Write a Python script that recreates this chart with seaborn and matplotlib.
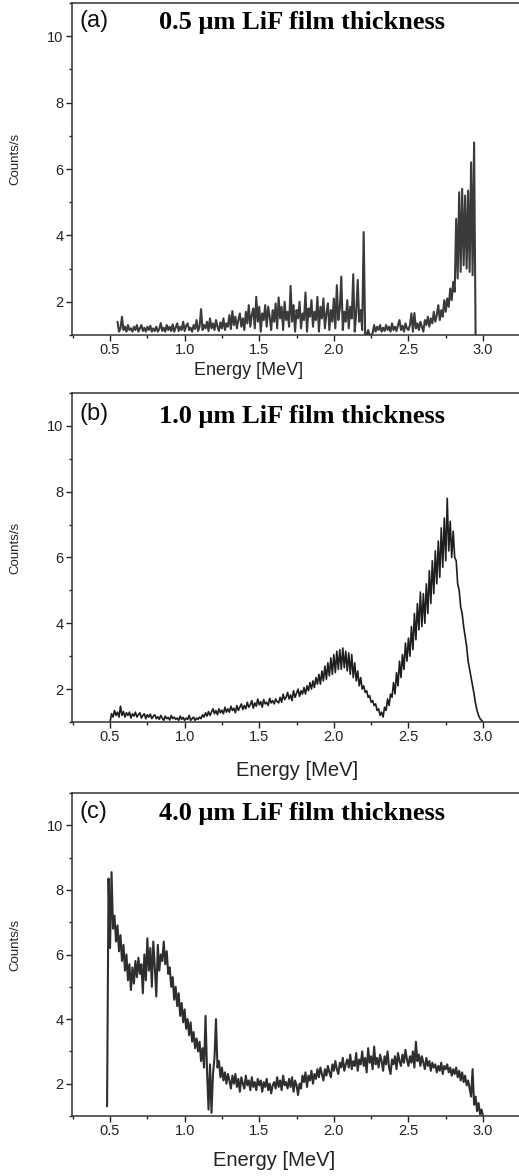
import numpy as np
import matplotlib
matplotlib.use("Agg")
import matplotlib.pyplot as plt
import seaborn as sns
from matplotlib.ticker import MultipleLocator

sns.set_style("ticks")
plt.rcParams['font.family'] = ['Liberation Sans', 'DejaVu Sans']

# ---------------- data ----------------
panel_labels = ["(a)", "(b)", "(c)"]
panel_titles = ["0.5 \u03bcm LiF film thickness",
                "1.0 \u03bcm LiF film thickness",
                "4.0 \u03bcm LiF film thickness"]

# energy ranges (MeV) of each spectrum, 0.01 MeV channels
energy_range_a = (0.55, 2.95)
energy_range_b = (0.50, 3.00)
energy_range_c = (0.48, 3.00)

counts_a = [
    1.40, 1.10, 1.20, 1.55, 1.15, 1.25, 1.10, 1.30, 1.15, 1.20,
    1.10, 1.25, 1.15, 1.30, 1.10, 1.20, 1.30, 1.12, 1.22, 1.10,
    1.25, 1.15, 1.28, 1.10, 1.20, 1.12, 1.25, 1.10, 1.18, 1.36,
    1.12, 1.22, 1.10, 1.30, 1.15, 1.25, 1.12, 1.32, 1.10, 1.22,
    1.35, 1.12, 1.25, 1.15, 1.40, 1.12, 1.28, 1.35, 1.15, 1.22,
    1.10, 1.30, 1.18, 1.45, 1.12, 1.25, 1.78, 1.15, 1.30, 1.20,
    1.40, 1.12, 1.50, 1.20, 1.35, 1.15, 1.45, 1.25, 1.12, 1.38,
    1.20, 1.50, 1.15, 1.35, 1.25, 1.60, 1.18, 1.72, 1.30, 1.55,
    1.20, 1.45, 1.65, 1.25, 1.50, 1.15, 1.70, 1.35, 1.90, 1.25,
    1.60, 1.80, 1.20, 2.15, 1.40, 1.85, 1.10, 1.65, 1.45, 1.90,
    1.25, 1.85, 1.55, 1.15, 1.75, 1.40, 1.95, 1.20, 2.13, 1.50,
    1.85, 1.15, 2.00, 1.45, 1.70, 1.25, 2.48, 1.40, 1.90, 1.10,
    1.75, 1.50, 2.00, 1.20, 1.65, 1.45, 2.28, 1.10, 1.80, 1.55,
    2.05, 1.25, 1.70, 1.45, 2.15, 1.10, 1.85, 1.50, 2.10, 1.20,
    1.65, 1.95, 1.15, 1.75, 1.40, 2.10, 1.20, 2.50, 1.45, 1.80,
    2.76, 1.15, 1.70, 1.40, 2.05, 1.20, 1.85, 1.50, 2.83, 1.10,
    1.65, 2.66, 1.40, 1.75, 1.15, 4.10, 1.00, 1.00, 1.15, 1.00,
    1.00, 1.05, 1.30, 1.10, 1.25, 1.15, 1.30, 1.10, 1.22, 1.12,
    1.30, 1.15, 1.25, 1.10, 1.35, 1.15, 1.25, 1.12, 1.30, 1.45,
    1.15, 1.28, 1.10, 1.35, 1.20, 1.15, 1.30, 1.65, 1.10, 1.66,
    1.20, 1.35, 1.15, 1.40, 1.25, 1.10, 1.45, 1.30, 1.55, 1.25,
    1.50, 1.35, 1.70, 1.40, 1.60, 1.90, 1.45, 1.75, 1.55, 2.05,
    1.70, 2.10, 1.85, 2.40, 2.05, 2.60, 2.30, 4.50, 2.70, 5.30,
    2.90, 5.40, 3.10, 5.20, 3.00, 5.35, 2.90, 6.20, 2.80, 6.80,
    1.00,
]

counts_b = [
    1.00, 1.25, 1.15, 1.35, 1.20, 1.30, 1.15, 1.48, 1.20, 1.32,
    1.15, 1.28, 1.20, 1.30, 1.12, 1.25, 1.18, 1.30, 1.15, 1.22,
    1.28, 1.12, 1.20, 1.25, 1.10, 1.22, 1.15, 1.24, 1.10, 1.18,
    1.22, 1.10, 1.16, 1.08, 1.20, 1.12, 1.05, 1.18, 1.10, 1.14,
    1.06, 1.20, 1.10, 1.15, 1.08, 1.12, 1.05, 1.18, 1.08, 1.14,
    1.05, 1.12, 1.08, 1.20, 1.05, 1.10, 1.15, 1.05, 1.12, 1.08,
    1.15, 1.10, 1.22, 1.15, 1.28, 1.18, 1.32, 1.20, 1.30, 1.40,
    1.25, 1.35, 1.22, 1.40, 1.28, 1.36, 1.25, 1.45, 1.30, 1.40,
    1.30, 1.48, 1.35, 1.42, 1.28, 1.50, 1.35, 1.45, 1.55, 1.38,
    1.50, 1.40, 1.60, 1.45, 1.52, 1.65, 1.42, 1.58, 1.48, 1.70,
    1.52, 1.62, 1.45, 1.68, 1.55, 1.60, 1.50, 1.72, 1.58, 1.65,
    1.55, 1.70, 1.62, 1.58, 1.75, 1.60, 1.85, 1.68, 1.75, 1.90,
    1.70, 1.82, 1.65, 1.95, 1.75, 1.88, 2.00, 1.78, 1.95, 1.85,
    2.05, 1.85, 2.10, 1.95, 2.20, 2.00, 2.25, 2.05, 2.35, 2.15,
    2.45, 2.15, 2.55, 2.25, 2.70, 2.30, 2.80, 2.40, 2.95, 2.45,
    3.05, 2.50, 3.15, 2.60, 3.20, 2.60, 3.25, 2.65, 3.15, 2.55,
    3.10, 2.45, 3.05, 2.35, 2.80, 2.25, 2.55, 2.10, 2.35, 2.00,
    2.10, 1.90, 1.95, 1.75, 1.80, 1.60, 1.65, 1.50, 1.55, 1.35,
    1.40, 1.20, 1.30, 1.15, 1.45, 1.35, 1.70, 1.50, 1.85, 1.75,
    2.20, 1.85, 2.50, 2.10, 2.85, 2.35, 3.05, 2.60, 3.40, 2.85,
    3.55, 3.00, 3.90, 3.20, 4.30, 3.50, 4.60, 3.80, 4.95, 3.90,
    4.90, 4.00, 5.20, 4.30, 5.60, 4.60, 5.90, 4.90, 6.20, 5.20,
    6.50, 5.40, 6.90, 5.70, 7.20, 5.90, 7.80, 6.20, 7.10, 6.00,
    6.80, 6.00, 5.90, 5.20, 5.00, 4.50, 4.30, 3.90, 3.60, 3.30,
    2.85, 2.60, 2.35, 2.10, 1.85, 1.55, 1.35, 1.20, 1.10, 1.05,
    1.00,
]

counts_c = [
    1.30, 8.35,
    6.20, 8.55, 6.80, 7.20, 6.40, 6.90, 6.10, 6.60, 5.80, 6.30,
    5.50, 6.00, 5.20, 5.70, 4.90, 5.60, 5.10, 5.80, 5.30, 5.90,
    5.40, 5.70, 4.80, 6.00, 5.20, 6.50, 5.50, 6.20, 5.00, 6.40,
    5.60, 4.70, 6.30, 5.50, 6.00, 5.80, 6.40, 5.70, 6.10, 5.40,
    5.60, 5.00, 5.30, 4.60, 5.00, 4.40, 4.80, 4.10, 4.50, 3.90,
    4.30, 3.70, 4.00, 3.50, 3.90, 3.30, 3.60, 3.10, 3.40, 3.00,
    3.30, 2.70, 3.10, 2.50, 4.10, 2.40, 1.20, 2.60, 1.10, 2.30,
    2.80, 4.00, 2.50, 2.70, 2.20, 2.50, 2.10, 2.35, 2.00, 2.30,
    2.10, 1.85, 2.25, 2.00, 2.30, 1.90, 2.15, 1.75, 2.20, 2.00,
    1.85, 2.25, 1.95, 2.10, 1.80, 2.20, 1.90, 2.05, 1.80, 2.15,
    1.95, 2.10, 1.75, 2.05, 1.90, 2.15, 1.80, 2.00, 1.70, 1.95,
    2.05, 1.85, 2.20, 1.90, 2.10, 1.80, 2.25, 1.95, 2.05, 1.85,
    2.15, 1.90, 2.20, 1.75, 2.10, 1.95, 1.65, 2.00, 1.85, 2.25,
    2.05, 2.35, 1.90, 2.25, 2.10, 2.40, 2.00, 2.30, 2.15, 2.45,
    2.20, 2.50, 2.30, 2.10, 2.45, 2.25, 2.55, 2.35, 2.20, 2.60,
    2.40, 2.70, 2.45, 2.30, 2.65, 2.50, 2.80, 2.40, 2.60, 2.75,
    2.50, 2.90, 2.45, 2.70, 2.55, 2.95, 2.40, 2.75, 2.60, 3.00,
    2.55, 2.80, 2.35, 3.10, 2.65, 2.85, 2.45, 3.15, 2.60, 2.80,
    2.50, 2.90, 2.70, 2.40, 2.85, 2.60, 3.00, 2.50, 2.30, 2.75,
    2.60, 2.85, 2.45, 2.95, 2.70, 2.55, 2.90, 2.65, 3.05, 2.75,
    2.55, 2.85, 2.65, 3.00, 2.50, 3.30, 2.70, 2.90, 2.55, 2.85,
    2.65, 2.45, 2.80, 2.55, 2.70, 2.40, 2.65, 2.50, 2.60, 2.35,
    2.55, 2.40, 2.65, 2.30, 2.55, 2.45, 2.60, 2.35, 2.50, 2.25,
    2.45, 2.30, 2.50, 2.20, 2.40, 2.10, 2.35, 2.05, 2.25, 1.95,
    2.10, 1.85, 1.60, 2.45, 1.35, 1.60, 1.15, 1.40, 1.05, 1.20,
    1.00,
]

y_ticks = [2, 4, 6, 8, 10]
x_ticks = [0.5, 1.0, 1.5, 2.0, 2.5, 3.0]
x_label = "Energy [MeV]"
y_label = "Counts/s"

# ---------------- figure ----------------
W, H = 519, 1176
fig = plt.figure(figsize=(W / 100, H / 100), dpi=100)

def ax_rect(top_px, bottom_px, left_px=72, right_px=519):
    return [left_px / W, 1 - bottom_px / H, (right_px - left_px) / W,
            (bottom_px - top_px) / H]

rects = [ax_rect(3, 335), ax_rect(393, 722), ax_rect(793, 1116)]
datasets = [(energy_range_a, counts_a), (energy_range_b, counts_b),
            (energy_range_c, counts_c)]
line_colors = ["#3a3a3a", "#1e1e1e", "#2e2e2e"]
line_widths = [1.5, 1.2, 1.5]
xlabel_sizes = [13, 14.5, 14.5]
xlabel_pos = [(0.396, -0.081), (0.503, -0.120), (0.452, -0.108)]
title_y = [0.921, 0.909, 0.916]

for i, (rect, (erange, counts)) in enumerate(zip(rects, datasets)):
    ax = fig.add_axes(rect)
    energy = np.linspace(erange[0], erange[1], len(counts))
    sns.lineplot(x=energy, y=counts, ax=ax, color=line_colors[i],
                 linewidth=line_widths[i], estimator=None, sort=False)
    ax.set_xlim(0.245, 3.241)
    ax.set_ylim(1, 11)
    ax.set_xticks(x_ticks)
    ax.set_xticklabels([f"{t:.1f}" for t in x_ticks])
    ax.set_yticks(y_ticks)
    ax.xaxis.set_minor_locator(MultipleLocator(0.25))
    ax.yaxis.set_minor_locator(MultipleLocator(1))
    ax.tick_params(axis="both", which="major", direction="out", length=4,
                   width=1.0, labelsize=10.5, colors="#222222", pad=2)
    ax.tick_params(axis="both", which="minor", direction="out", length=2.5,
                   width=1.0, colors="#222222")
    for s in ["left", "bottom", "top"]:
        ax.spines[s].set_visible(True)
        ax.spines[s].set_color("#333333")
        ax.spines[s].set_linewidth(1.1)
    ax.spines["right"].set_visible(False)
    ax.set_xlabel(x_label, fontsize=xlabel_sizes[i], color="#222222")
    ax.xaxis.set_label_coords(*xlabel_pos[i])
    ax.set_ylabel(y_label, fontsize=9.5, color="#222222")
    ax.yaxis.set_label_coords(-0.114, 0.53)
    ax.text(0.016, title_y[i] + 0.008, panel_labels[i], transform=ax.transAxes,
            fontsize=17, ha="left", va="baseline", color="#111111")
    ax.text(0.195, title_y[i], panel_titles[i], transform=ax.transAxes,
            fontsize=19, ha="left", va="baseline", fontweight="bold",
            family=["Liberation Serif", "DejaVu Serif"], color="#000000")

fig.savefig("out.png", dpi=100)
